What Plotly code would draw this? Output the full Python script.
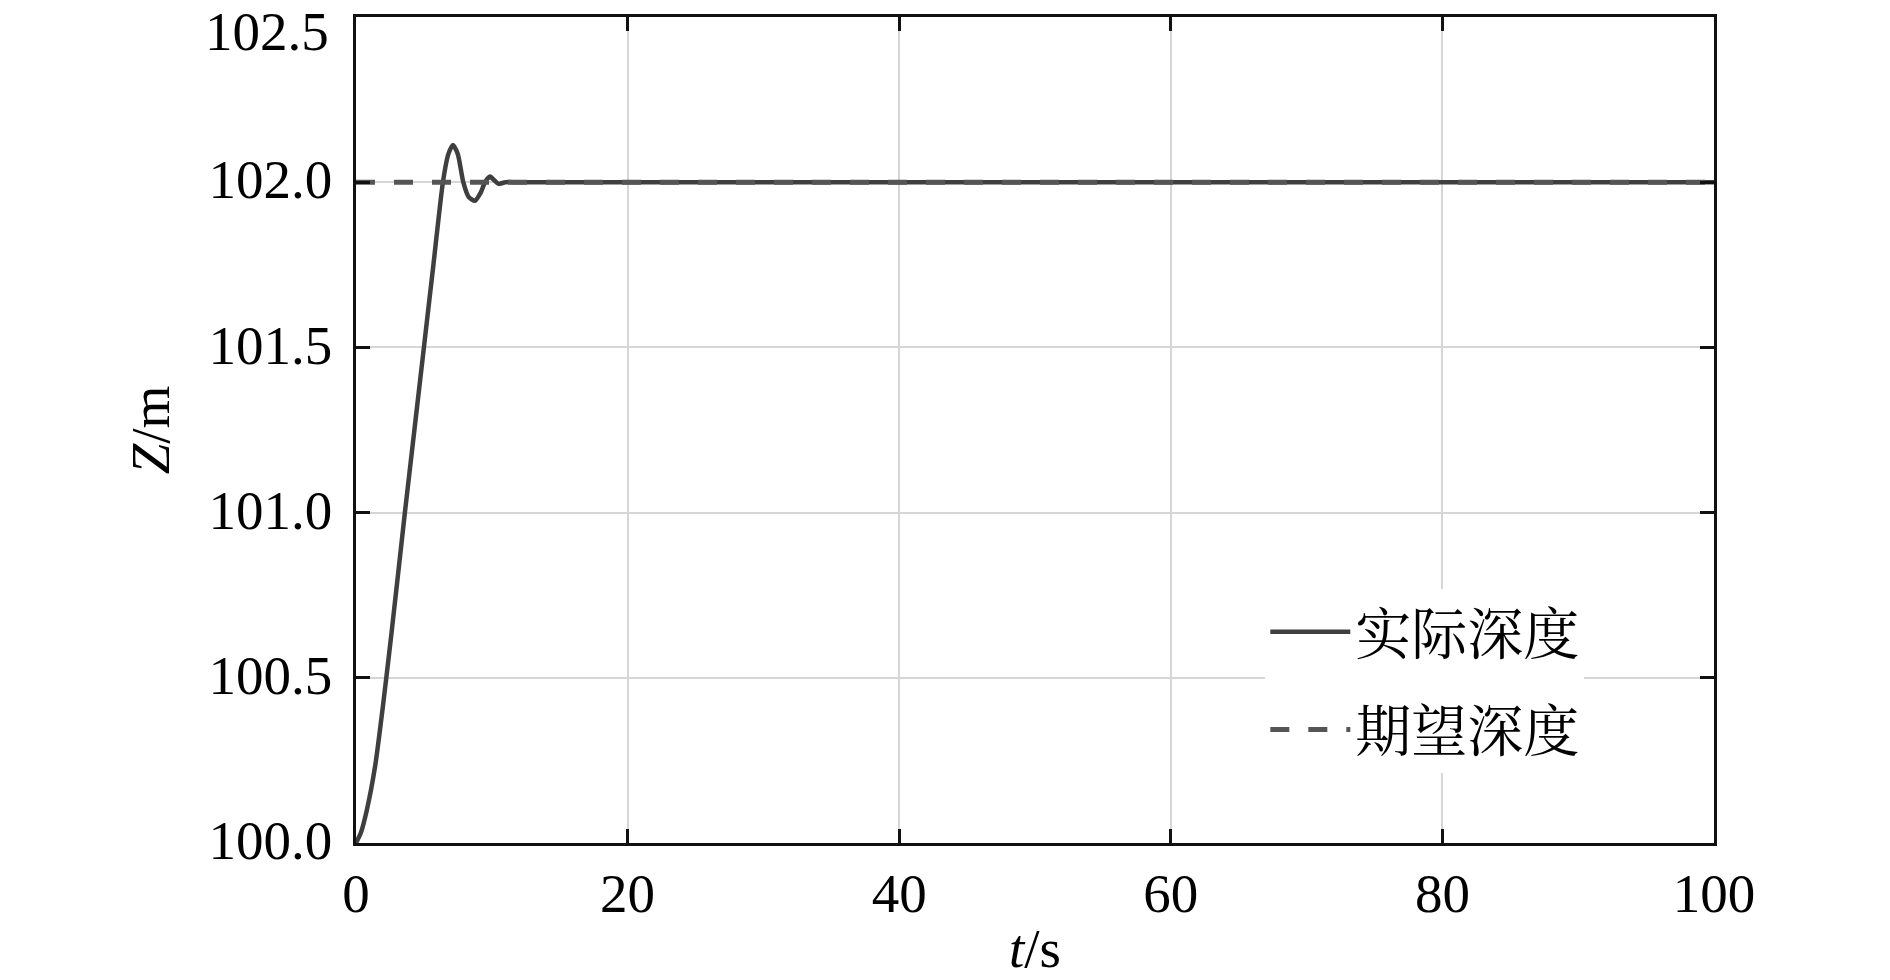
import plotly.graph_objects as go

t_actual = [0, 0.35, 0.8, 1.4, 2.0, 2.6, 3.6, 4.3, 5.0, 5.7, 6.4, 6.8, 7.14, 7.5, 7.9,
            8.3, 8.76, 9.2, 9.5, 9.87, 10.2, 10.5, 11.0, 12.0, 100.0]
z_actual = [100.0, 100.03, 100.1, 100.23, 100.42, 100.63, 101.0, 101.25, 101.5, 101.75,
            102.0, 102.085, 102.113, 102.085, 102.0, 101.955, 101.944, 101.97, 102.0,
            102.017, 102.005, 101.995, 102.0, 102.0, 102.0]

# Desired depth
t_desired = [0, 100]
z_desired = [102.0, 102.0]

names = ["实际深度", "期望深度"]
x_ticks = [0, 20, 40, 60, 80, 100]
y_ticks = [100.0, 100.5, 101.0, 101.5, 102.0, 102.5]

fig = go.Figure()
fig.add_trace(go.Scatter(x=t_actual, y=z_actual, mode="lines", name=names[0],
                         line=dict(color="#3f3f3f", width=4.5, shape="spline", smoothing=0.6),
                         legendgroup="a"))
fig.add_trace(go.Scatter(x=t_desired, y=z_desired, mode="lines", name=names[1],
                         line=dict(color="#555555", width=5, dash="19px,19px"),
                         legendgroup="b"))

serif = "Liberation Serif, Times New Roman, serif"
tick_font = dict(family=serif, size=55, color="#000000")
axis_common = dict(
    showline=True, linecolor="#111111", linewidth=2.5, mirror="ticks",
    ticks="inside", ticklen=14, tickwidth=2.5, tickcolor="#111111",
    showgrid=True, gridcolor="#d6d6d6", gridwidth=1.5, zeroline=False,
    automargin=False, ticklabeloverflow="allow",
    tickfont=tick_font,
)

# the topmost y label sits at the very top edge; it is drawn as an annotation
# nudged just inside the page so that it stays fully visible
y_labels = [f"{v:.1f}" for v in y_ticks]
axis_labels = y_labels[:-1] + [""]

fig.update_xaxes(range=[0, 100], tickvals=x_ticks, ticktext=[str(v) for v in x_ticks],
                 ticklabelstandoff=0,
                 title=dict(text="<i>t</i>/s", font=dict(family=serif, size=55, color="#000"),
                            standoff=6),
                 **axis_common)
fig.update_yaxes(range=[99.9999, 102.5001], tickvals=y_ticks, ticktext=axis_labels,
                 ticklabelstandoff=10, ticklabelshift=-3,
                 title=dict(text="<i>Z</i>/m", font=dict(family=serif, size=55, color="#000"),
                            standoff=22),
                 **axis_common)

fig.add_annotation(text=y_labels[-1], xref="paper", x=0, yref="y", y=y_ticks[-1],
                   xanchor="right", yanchor="top", xshift=-26, yshift=17,
                   showarrow=False, font=tick_font, borderpad=0)

fig.update_layout(
    width=1890, height=980,
    margin=dict(l=356, r=176, t=17, b=137, autoexpand=False),
    paper_bgcolor="white", plot_bgcolor="white",
    showlegend=True,
    legend=dict(x=0.6696, y=0.3076, xanchor="left", yanchor="top",
                bgcolor="white", borderwidth=0,
                font=dict(family="Noto Serif CJK SC, Noto Sans CJK SC, sans-serif", size=56, color="#000"),
                itemwidth=80, tracegroupgap=22, traceorder="grouped"),
)

# remove the default page margin so the figure fills the window exactly
fig.write_html("out.html",
               config={"displayModeBar": False},
               post_script="document.body.style.margin='0';document.body.style.overflow='hidden';")
